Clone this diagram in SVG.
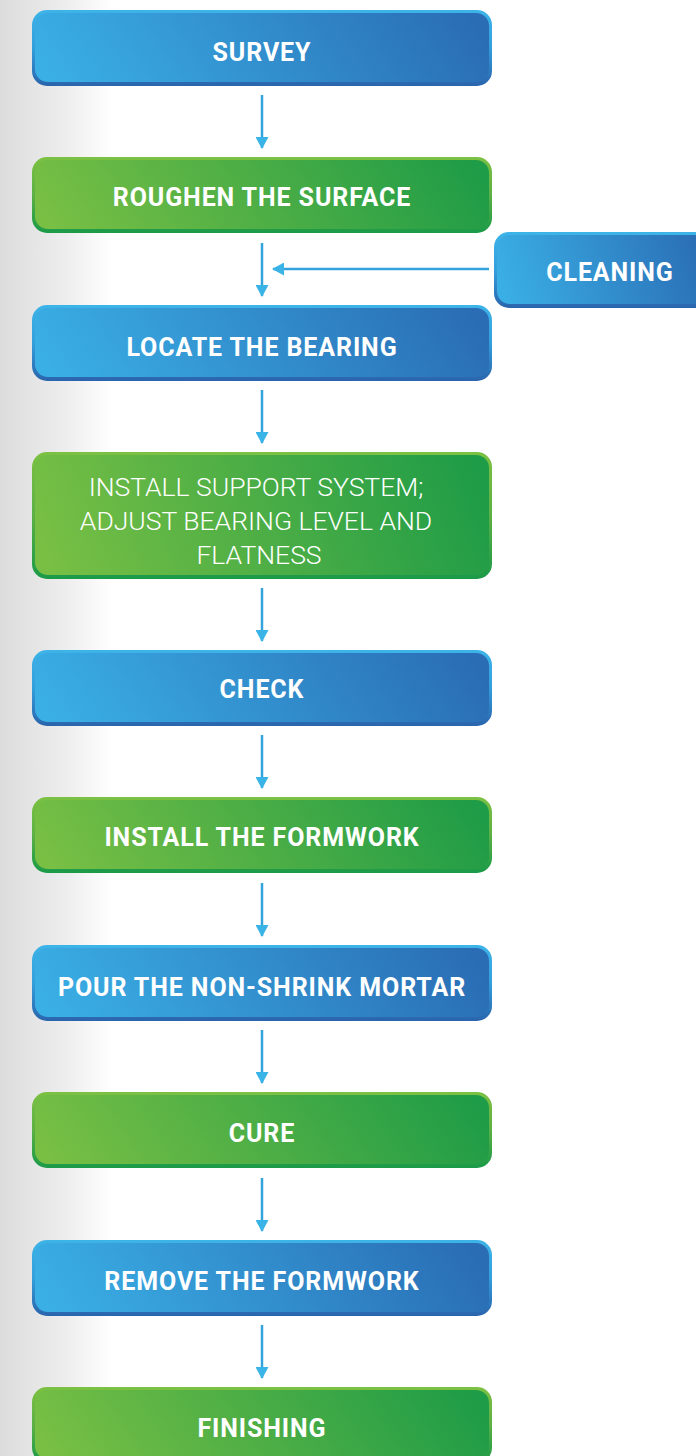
<svg xmlns="http://www.w3.org/2000/svg" width="696" height="1456" viewBox="0 0 696 1456">
<defs>
<linearGradient id="bg" x1="0" y1="0" x2="1" y2="0">
<stop offset="0" stop-color="#dddcdc"/><stop offset="0.6" stop-color="#efeeee"/><stop offset="1" stop-color="#ffffff"/>
</linearGradient>
<linearGradient id="blueFill" x1="0" y1="0.55" x2="1" y2="0.45">
<stop offset="0" stop-color="#3aafe5"/><stop offset="1" stop-color="#2a6db5"/>
</linearGradient>
<linearGradient id="blueEdge" x1="0" y1="0" x2="0" y2="1">
<stop offset="0" stop-color="#3db4e8"/><stop offset="0.5" stop-color="#339fdc"/><stop offset="1" stop-color="#2a64ac"/>
</linearGradient>
<linearGradient id="greenFill" x1="0" y1="0.55" x2="1" y2="0.45">
<stop offset="0" stop-color="#78bf44"/><stop offset="1" stop-color="#1f9c47"/>
</linearGradient>
<linearGradient id="greenEdge" x1="0" y1="0" x2="0" y2="1">
<stop offset="0" stop-color="#7cc143"/><stop offset="0.5" stop-color="#5cb045"/><stop offset="1" stop-color="#1a9a48"/>
</linearGradient>
<marker id="ah" viewBox="0 0 12 13" refX="11" refY="6.5" markerWidth="12" markerHeight="13" markerUnits="userSpaceOnUse" orient="auto">
<path d="M0,0 L12,6.5 L0,13 Z" fill="#3ab4e6"/>
</marker>
<style>
.lbl{font-family:Roboto,"Liberation Sans",sans-serif;font-weight:700;font-size:25px;letter-spacing:0.9px;fill:#ffffff;text-anchor:middle}
.lt{font-family:Roboto,"Liberation Sans",sans-serif;font-weight:300;font-size:26.5px;fill:#ffffff;text-anchor:middle}
.conn{stroke:#34a3dc;stroke-width:2.5;fill:none}
</style>
</defs>
<rect x="0" y="0" width="696" height="1456" fill="#ffffff"/>
<rect x="0" y="0" width="112" height="1456" fill="url(#bg)"/>

<g id="connectors">
<line class="conn" x1="262" y1="95" x2="262" y2="148" marker-end="url(#ah)"/>
<line class="conn" x1="262" y1="243" x2="262" y2="296" marker-end="url(#ah)"/>
<line class="conn" x1="489" y1="269" x2="273" y2="269" marker-end="url(#ah)"/>
<line class="conn" x1="262" y1="390" x2="262" y2="443" marker-end="url(#ah)"/>
<line class="conn" x1="262" y1="588" x2="262" y2="641" marker-end="url(#ah)"/>
<line class="conn" x1="262" y1="735" x2="262" y2="788" marker-end="url(#ah)"/>
<line class="conn" x1="262" y1="883" x2="262" y2="936" marker-end="url(#ah)"/>
<line class="conn" x1="262" y1="1030" x2="262" y2="1083" marker-end="url(#ah)"/>
<line class="conn" x1="262" y1="1178" x2="262" y2="1231" marker-end="url(#ah)"/>
<line class="conn" x1="262" y1="1325" x2="262" y2="1378" marker-end="url(#ah)"/>
</g>

<g id="survey">
<rect x="32" y="10" width="460" height="76" rx="15" fill="url(#blueEdge)"/>
<rect x="35" y="13" width="454" height="69" rx="13" fill="url(#blueFill)"/>
<text class="lbl" x="262" y="61">SURVEY</text>
</g>
<g id="roughen">
<rect x="32" y="157" width="460" height="76" rx="15" fill="url(#greenEdge)"/>
<rect x="35" y="160" width="454" height="69" rx="13" fill="url(#greenFill)"/>
<text class="lbl" x="262" y="206">ROUGHEN THE SURFACE</text>
</g>
<g id="cleaning">
<rect x="494" y="232" width="220" height="76" rx="15" fill="url(#blueEdge)"/>
<rect x="497" y="235" width="214" height="69" rx="13" fill="url(#blueFill)"/>
<text class="lbl" x="610" y="281">CLEANING</text>
</g>
<g id="locate">
<rect x="32" y="305" width="460" height="76" rx="15" fill="url(#blueEdge)"/>
<rect x="35" y="308" width="454" height="69" rx="13" fill="url(#blueFill)"/>
<text class="lbl" x="262" y="356">LOCATE THE BEARING</text>
</g>
<g id="install-support">
<rect x="32" y="452" width="460" height="127" rx="15" fill="url(#greenEdge)"/>
<rect x="35" y="455" width="454" height="120" rx="13" fill="url(#greenFill)"/>
<text class="lt" x="256" y="496">INSTALL SUPPORT SYSTEM;</text>
<text class="lt" x="256" y="530">ADJUST BEARING LEVEL AND</text>
<text class="lt" x="259" y="564">FLATNESS</text>
</g>
<g id="check">
<rect x="32" y="650" width="460" height="76" rx="15" fill="url(#blueEdge)"/>
<rect x="35" y="653" width="454" height="69" rx="13" fill="url(#blueFill)"/>
<text class="lbl" x="262" y="698">CHECK</text>
</g>
<g id="install-formwork">
<rect x="32" y="797" width="460" height="76" rx="15" fill="url(#greenEdge)"/>
<rect x="35" y="800" width="454" height="69" rx="13" fill="url(#greenFill)"/>
<text class="lbl" x="262" y="846">INSTALL THE FORMWORK</text>
</g>
<g id="pour">
<rect x="32" y="945" width="460" height="76" rx="15" fill="url(#blueEdge)"/>
<rect x="35" y="948" width="454" height="69" rx="13" fill="url(#blueFill)"/>
<text class="lbl" x="262" y="996">POUR THE NON-SHRINK MORTAR</text>
</g>
<g id="cure">
<rect x="32" y="1092" width="460" height="76" rx="15" fill="url(#greenEdge)"/>
<rect x="35" y="1095" width="454" height="69" rx="13" fill="url(#greenFill)"/>
<text class="lbl" x="262" y="1142">CURE</text>
</g>
<g id="remove">
<rect x="32" y="1240" width="460" height="76" rx="15" fill="url(#blueEdge)"/>
<rect x="35" y="1243" width="454" height="69" rx="13" fill="url(#blueFill)"/>
<text class="lbl" x="262" y="1290">REMOVE THE FORMWORK</text>
</g>
<g id="finishing">
<rect x="32" y="1387" width="460" height="76" rx="15" fill="url(#greenEdge)"/>
<rect x="35" y="1390" width="454" height="69" rx="13" fill="url(#greenFill)"/>
<text class="lbl" x="262" y="1437">FINISHING</text>
</g>
</svg>
